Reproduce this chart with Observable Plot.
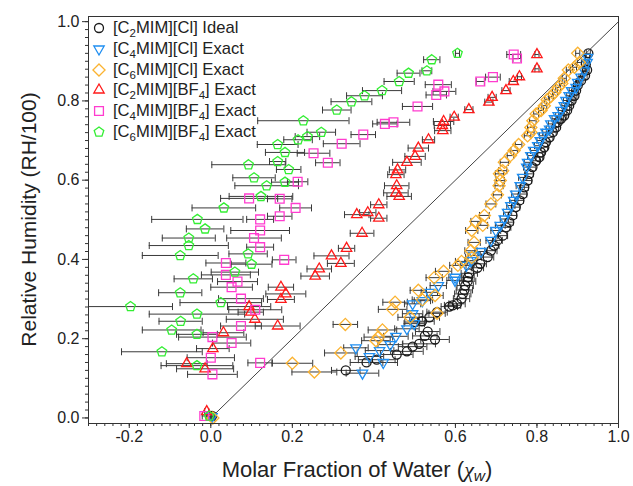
<!DOCTYPE html>
<html><head><meta charset="utf-8">
<script src="https://cdn.jsdelivr.net/npm/d3@7"></script>
<script src="https://cdn.jsdelivr.net/npm/@observablehq/plot@0.6"></script>
<style>
body{margin:0;background:#fff;}
#wrap{position:relative;width:633px;height:486px;font-family:"Liberation Sans",Arial,sans-serif;}
#legend{position:absolute;left:91px;top:17.6px;font-size:16.6px;color:#222;}
.row{display:flex;align-items:center;height:20.8px;white-space:nowrap;}
.row svg{margin-right:6px;flex:none;}
.sub{font-size:11.5px;position:relative;top:4px;}
</style></head><body><div id="wrap"><div id="legend"></div></div>
<script>
// ---------------- data ----------------
const c2clX = [0.003,0.331,0.382,0.407,0.456,0.481,0.495,0.511,0.550,0.525,0.532,0.501,0.518,0.536,0.555,0.585,0.593,0.604,0.615,0.618,0.622,0.624,0.630,0.631,0.634,0.654,0.661,0.679,0.687,0.695,0.703,0.716,0.724,0.732,0.740,0.748,0.757,0.765,0.769,0.777,0.781,0.789,0.798,0.806,0.810,0.818,0.822,0.831,0.839,0.847,0.851,0.859,0.867,0.874,0.879,0.885,0.892,0.896,0.900,0.908,0.918,0.923,0.920,0.926];
const c2clY = [0.005,0.120,0.140,0.147,0.160,0.168,0.180,0.187,0.198,0.207,0.218,0.242,0.244,0.254,0.267,0.281,0.284,0.288,0.301,0.313,0.323,0.334,0.345,0.355,0.365,0.379,0.389,0.406,0.422,0.435,0.448,0.460,0.481,0.494,0.511,0.532,0.549,0.565,0.582,0.599,0.616,0.633,0.649,0.658,0.670,0.683,0.696,0.708,0.721,0.733,0.746,0.755,0.763,0.776,0.788,0.801,0.813,0.826,0.839,0.851,0.864,0.878,0.893,0.920];
const c2clErr = [0.005,0.035,0.04,0.045,0.04,0.04,0.035,0.04,0.035,0.03,0.03,0.025,0.03,0.025,0.025,0.02,0.02,0.02,0.02,0.02,0.02,0.02,0.02,0.015,0.02,0.015,0.015,0.015,0.015,0.012,0.012,0.012,0.012,0.01,0.01,0.01,0.01,0.01,0.01,0.01,0.01,0.008,0.008,0.008,0.008,0.008,0.008,0.008,0.008,0.006,0.006,0.006,0.006,0.006,0.006,0.006,0.006,0.006,0.005,0.005,0.005,0.005,0.005,0.005];

const c4clX = [0.003,0.372,0.423,0.389,0.414,0.356,0.440,0.454,0.481,0.499,0.495,0.495,0.519,0.536,0.558,0.599,0.599,0.627,0.638,0.646,0.663,0.687,0.699,0.710,0.720,0.728,0.736,0.743,0.748,0.759,0.765,0.775,0.777,0.785,0.792,0.802,0.808,0.814,0.822,0.831,0.834,0.843,0.852,0.859,0.867,0.871,0.879,0.885,0.896,0.900,0.908,0.916,0.923,0.924];
const c4clY = [0.003,0.113,0.140,0.155,0.170,0.177,0.185,0.206,0.225,0.238,0.263,0.288,0.296,0.317,0.334,0.347,0.355,0.385,0.397,0.410,0.420,0.448,0.473,0.486,0.502,0.519,0.536,0.549,0.565,0.586,0.607,0.633,0.645,0.662,0.675,0.687,0.700,0.712,0.721,0.729,0.742,0.755,0.763,0.776,0.788,0.801,0.813,0.826,0.834,0.847,0.860,0.876,0.897,0.910];
const c4clErr = [0.005,0.04,0.035,0.035,0.035,0.03,0.03,0.03,0.03,0.025,0.025,0.02,0.02,0.02,0.02,0.02,0.015,0.015,0.015,0.015,0.015,0.012,0.012,0.012,0.01,0.01,0.01,0.01,0.01,0.01,0.01,0.008,0.008,0.008,0.008,0.008,0.008,0.008,0.008,0.008,0.006,0.006,0.006,0.006,0.006,0.006,0.006,0.006,0.005,0.005,0.005,0.005,0.005,0.005];

const c6clX = [0.005,0.200,0.254,0.319,0.405,0.411,0.421,0.330,0.489,0.555,0.446,0.452,0.519,0.550,0.509,0.548,0.571,0.606,0.615,0.640,0.638,0.646,0.640,0.667,0.650,0.671,0.687,0.703,0.707,0.710,0.708,0.716,0.720,0.735,0.744,0.755,0.777,0.785,0.785,0.790,0.798,0.810,0.818,0.825,0.834,0.844,0.852,0.861,0.867,0.877,0.892,0.904,0.900];
const c6clY = [0.000,0.138,0.116,0.164,0.195,0.204,0.222,0.236,0.254,0.264,0.274,0.292,0.298,0.309,0.322,0.354,0.370,0.385,0.395,0.405,0.422,0.443,0.473,0.486,0.496,0.511,0.540,0.563,0.586,0.599,0.616,0.624,0.645,0.662,0.675,0.690,0.712,0.721,0.733,0.750,0.767,0.776,0.788,0.803,0.811,0.822,0.834,0.844,0.857,0.878,0.885,0.897,0.920];
const c6clErr = [0.005,0.05,0.055,0.04,0.035,0.035,0.035,0.03,0.03,0.02,0.035,0.03,0.025,0.02,0.02,0.02,0.02,0.02,0.015,0.015,0.015,0.015,0.015,0.012,0.012,0.012,0.012,0.01,0.01,0.01,0.01,0.01,0.01,0.008,0.008,0.008,0.008,0.008,0.008,0.008,0.006,0.006,0.006,0.006,0.006,0.006,0.006,0.006,0.005,0.005,0.005,0.005,0.005];

const c2bf4X = [-0.010,-0.059,-0.014,0.005,0.031,0.164,0.108,0.098,0.094,0.172,0.184,0.172,0.256,0.266,0.319,0.296,0.333,0.371,0.412,0.358,0.385,0.412,0.462,0.454,0.456,0.454,0.458,0.481,0.501,0.509,0.534,0.569,0.568,0.571,0.597,0.633,0.682,0.690,0.724,0.742,0.757,0.800,0.800];
const c2bf4Y = [0.016,0.137,0.124,0.175,0.215,0.232,0.249,0.267,0.281,0.299,0.313,0.330,0.358,0.376,0.390,0.409,0.428,0.466,0.504,0.513,0.518,0.538,0.559,0.568,0.586,0.614,0.626,0.645,0.660,0.681,0.702,0.725,0.738,0.748,0.759,0.778,0.797,0.809,0.826,0.849,0.861,0.881,0.917];
const c2bf4Err = [0.005,0.05,0.07,0.04,0.05,0.055,0.07,0.031,0.053,0.033,0.049,0.031,0.035,0.03,0.033,0.043,0.02,0.029,0.02,0.03,0.02,0.02,0.03,0.03,0.03,0.02,0.02,0.035,0.025,0.025,0.015,0.02,0.02,0.025,0.01,0.01,0.01,0.01,0.01,0.01,0.005,0.005,0.005];

const c4bf4X = [-0.016,0.004,0.121,0.0,0.051,0.004,0.074,0.109,0.074,0.051,0.0655,0.037,0.037,0.180,0.121,0.106,0.121,0.121,0.169,0.208,0.169,0.094,0.213,0.287,0.252,0.321,0.374,0.427,0.448,0.507,0.553,0.573,0.558,0.661,0.692,0.751,0.743];
const c4bf4Y = [0.005,0.110,0.139,0.152,0.189,0.204,0.232,0.273,0.301,0.330,0.344,0.361,0.391,0.399,0.431,0.454,0.473,0.501,0.509,0.530,0.553,0.554,0.596,0.644,0.668,0.692,0.715,0.742,0.746,0.786,0.815,0.824,0.841,0.849,0.860,0.907,0.917];
const c4bf4Err = [0.005,0.061,0.03,0.058,0.047,0.083,0.05,0.065,0.055,0.051,0.049,0.06,0.049,0.029,0.033,0.067,0.072,0.033,0.03,0.039,0.03,0.07,0.025,0.03,0.04,0.045,0.03,0.03,0.04,0.037,0.025,0.028,0.032,0.01,0.018,0.01,0.017];

const c6bf4X = [-0.004,-0.034,-0.120,-0.034,-0.096,-0.074,-0.034,-0.197,0.0245,-0.075,-0.043,0.059,0.100,0.0915,-0.075,-0.054,-0.054,-0.014,-0.033,0.032,0.123,0.137,0.182,0.106,0.191,0.0925,0.164,0.182,0.164,0.214,0.237,0.271,0.227,0.309,0.345,0.377,0.420,0.462,0.485,0.530,0.542,0.605];
const c6bf4Y = [0.005,0.132,0.167,0.211,0.222,0.244,0.262,0.281,0.291,0.316,0.351,0.368,0.388,0.414,0.410,0.435,0.454,0.477,0.501,0.530,0.559,0.586,0.595,0.606,0.627,0.639,0.647,0.670,0.690,0.702,0.710,0.721,0.750,0.777,0.798,0.813,0.826,0.849,0.870,0.876,0.904,0.920];
const c6bf4Err = [0.005,0.088,0.099,0.05,0.072,0.053,0.117,0.103,0.1,0.053,0.047,0.058,0.05,0.047,0.093,0.097,0.065,0.046,0.112,0.078,0.078,0.078,0.033,0.052,0.03,0.09,0.02,0.048,0.05,0.035,0.03,0.035,0.112,0.035,0.05,0.044,0.048,0.037,0.028,0.012,0.02,0.005];

// y = x reference line
const idealLineX = [0, 1];
const idealLineY = [0, 1];

const legendLabels = [
  '[C<span class="sub">2</span>MIM][Cl] Ideal',
  '[C<span class="sub">4</span>MIM][Cl] Exact',
  '[C<span class="sub">6</span>MIM][Cl] Exact',
  '[C<span class="sub">2</span>MIM][BF<span class="sub">4</span>] Exact',
  '[C<span class="sub">4</span>MIM][BF<span class="sub">4</span>] Exact',
  '[C<span class="sub">6</span>MIM][BF<span class="sub">4</span>] Exact'
];
const seriesColors = ["#1a1a1a", "#1f8ef1", "#fbb331", "#ff1a1a", "#ff3ccf", "#33ee33"];

const xMajor = [-0.2, 0.0, 0.2, 0.4, 0.6, 0.8, 1.0];
const yMajor = [0.0, 0.2, 0.4, 0.6, 0.8, 1.0];

// ---------------- symbols ----------------
const R = s => Math.sqrt(s / Math.PI);
const symCircle = {draw(c, s){const r = R(s); c.moveTo(r, 0); c.arc(0, 0, r, 0, 2 * Math.PI); c.closePath();}};
const symTriDown = {draw(c, s){const r = R(s) * 1.33; c.moveTo(-0.866 * r, -0.5 * r); c.lineTo(0.866 * r, -0.5 * r); c.lineTo(0, r); c.closePath();}};
const symTriUp = {draw(c, s){const r = R(s) * 1.33; c.moveTo(-0.866 * r, 0.5 * r); c.lineTo(0.866 * r, 0.5 * r); c.lineTo(0, -r); c.closePath();}};
const symDiamond = {draw(c, s){const d = R(s) * 1.35; c.moveTo(0, -d); c.lineTo(d, 0); c.lineTo(0, d); c.lineTo(-d, 0); c.closePath();}};
const symSquare = {draw(c, s){const h = R(s) * 0.98; c.moveTo(-h, -h); c.lineTo(h, -h); c.lineTo(h, h); c.lineTo(-h, h); c.closePath();}};
const symPentagon = {draw(c, s){const p = R(s) * 1.12; for (let k = 0; k < 5; k++){const a = -Math.PI / 2 + k * 2 * Math.PI / 5; const px = p * Math.cos(a), py = p * Math.sin(a); if (k === 0) c.moveTo(px, py); else c.lineTo(px, py);} c.closePath();}};
const symCap = {draw(c, s){const h = R(s); c.moveTo(0, -h); c.lineTo(0, h);}};
const seriesSymbols = [symCircle, symTriDown, symDiamond, symTriUp, symSquare, symPentagon];

const series = [
  {x: c2clX, y: c2clY, e: c2clErr},
  {x: c4clX, y: c4clY, e: c4clErr},
  {x: c6clX, y: c6clY, e: c6clErr},
  {x: c2bf4X, y: c2bf4Y, e: c2bf4Err},
  {x: c4bf4X, y: c4bf4Y, e: c4bf4Err},
  {x: c6bf4X, y: c6bf4Y, e: c6bf4Err}
].map((s, k) => ({
  color: seriesColors[k], symbol: seriesSymbols[k],
  rows: s.x.map((x, i) => ({x, y: s.y[i], e: s.e[i] ?? 0.01}))
}));

// ---------------- chart ----------------
const W = 633, H = 486, mL = 88, mR = 15, mT = 16, mB = 63;
const barColor = "#3a3a3a";
const axisColor = "#333";
const fmt = d => d.toFixed(1);

const marks = [
  Plot.line(idealLineX.map((x, i) => ({x, y: idealLineY[i]})), {x: "x", y: "y", stroke: "#444", strokeWidth: 1})
];
for (const s of series) {
  marks.push(
    Plot.ruleY(s.rows, {y: "y", x1: d => d.x - d.e, x2: d => d.x + d.e, stroke: barColor, strokeWidth: 1}),
    Plot.dot(s.rows, {x: d => d.x - d.e, y: "y", symbol: symCap, r: 3.5, stroke: barColor, strokeWidth: 1, fill: "none"}),
    Plot.dot(s.rows, {x: d => d.x + d.e, y: "y", symbol: symCap, r: 3.5, stroke: barColor, strokeWidth: 1, fill: "none"})
  );
}
for (const s of series) {
  marks.push(Plot.dot(s.rows, {x: "x", y: "y", symbol: s.symbol, r: 4.5, stroke: s.color, strokeWidth: 1.3, fill: "none"}));
}
marks.push(
  Plot.axisX({ticks: d3.range(-0.3, 1.0001, 0.02), tickSize: 3, tickFormat: () => "", label: null, stroke: axisColor}),
  Plot.axisX({ticks: xMajor, tickSize: 5, tickPadding: 2, tickFormat: fmt, label: null, fontSize: 16, stroke: axisColor, fill: "#222"}),
  Plot.axisY({ticks: d3.range(0, 1.0001, 0.02), tickSize: 3, tickFormat: () => "", label: null, stroke: axisColor}),
  Plot.axisY({ticks: yMajor, tickSize: 6, tickPadding: 3, tickFormat: fmt, label: null, fontSize: 16, stroke: axisColor, fill: "#222"}),
  Plot.frame({stroke: axisColor, strokeWidth: 1})
);

const chart = Plot.plot({
  width: W, height: H,
  marginLeft: mL, marginRight: mR, marginTop: mT, marginBottom: mB,
  x: {domain: [-0.3, 1.0]},
  y: {domain: [-0.014, 1.013]},
  style: {fontFamily: '"Liberation Sans", Arial, sans-serif', fontSize: "16px", color: "#222", background: "white"},
  marks
});
const wrap = document.getElementById("wrap");
wrap.insertBefore(chart, wrap.firstChild);

// axis titles (real text with italic / subscript)
const svg = d3.select(chart);
const xl = svg.append("text")
  .attr("x", mL + (W - mL - mR) / 2 + 4).attr("y", 477)
  .attr("text-anchor", "middle").attr("font-size", 22).attr("fill", "#222")
  .attr("font-family", '"Liberation Sans", Arial, sans-serif');
xl.append("tspan").text("Molar Fraction of Water (");
xl.append("tspan").attr("font-family", '"Liberation Serif", serif').attr("font-style", "italic").text("χ");
xl.append("tspan").attr("font-style", "italic").attr("font-size", 15.5).attr("dy", 4).text("w");
xl.append("tspan").attr("dy", -4).text(")");

svg.append("text")
  .attr("transform", `translate(36,${mT + (H - mT - mB) / 2}) rotate(-90)`)
  .attr("text-anchor", "middle").attr("font-size", 21).attr("fill", "#222")
  .attr("font-family", '"Liberation Sans", Arial, sans-serif')
  .text("Relative Humidity (RH/100)");

// legend
const legend = d3.select("#legend");
series.forEach((s, k) => {
  const row = legend.append("div").attr("class", "row");
  const p = d3.path();
  s.symbol.draw(p, Math.PI * 4.5 * 4.5);
  const sv = row.append("svg").attr("width", 16).attr("height", 16);
  sv.append("path").attr("transform", "translate(8,8)").attr("d", p.toString())
    .attr("fill", "none").attr("stroke", s.color).attr("stroke-width", 1.3);
  row.append("span").html(legendLabels[k]);
});
</script></body></html>
